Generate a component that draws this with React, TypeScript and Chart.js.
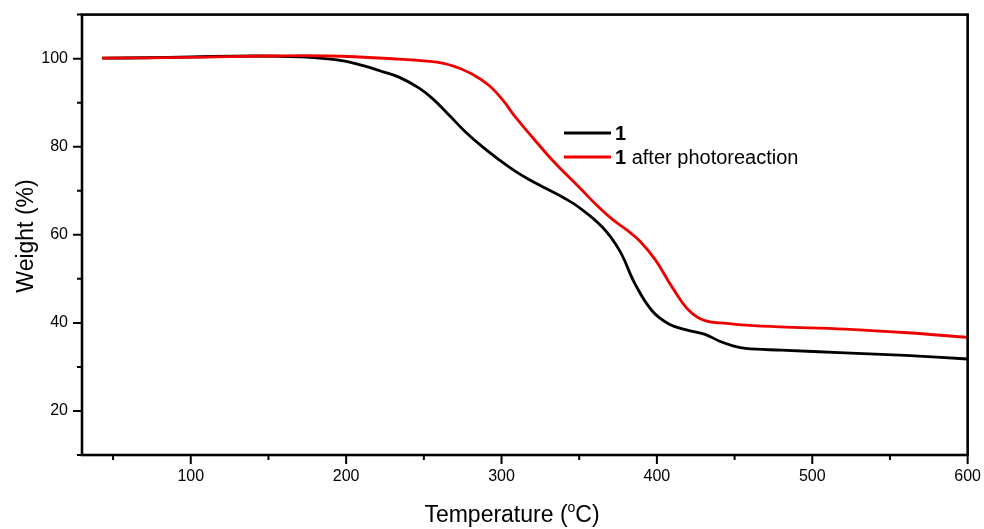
import { useEffect, useRef } from 'react';
import { Chart, registerables } from 'chart.js';

Chart.register(...registerables);

// ---- data ----
const seriesNames = ['1', '1 after photoreaction'];

const tempBlack = [43, 70, 100, 140, 170, 190, 200, 211, 222, 234, 247, 256, 267, 277, 288, 299, 309, 318, 327, 340, 350, 365, 376, 386, 397, 408, 419, 431, 440, 449, 457, 480, 521, 560, 600];
const weightBlack = [100.1, 100.2, 100.4, 100.6, 100.4, 99.9, 99.4, 98.4, 97.2, 95.8, 93.3, 90.8, 86.9, 83.3, 79.9, 76.9, 74.4, 72.5, 70.8, 68.4, 66.2, 61.7, 56.4, 48.8, 42.7, 39.7, 38.4, 37.4, 35.9, 34.8, 34.2, 33.8, 33.2, 32.6, 31.8];

const tempRed = [43, 100, 150, 190, 234, 254, 262, 270, 281, 292, 301, 309, 320, 331, 338, 350, 361, 371, 381, 389, 399, 410, 421, 431, 445, 457, 479, 521, 564, 600];
const weightRed = [100.1, 100.3, 100.6, 100.6, 99.9, 99.4, 99.0, 98.2, 96.5, 93.9, 90.5, 86.7, 82.1, 77.6, 75.0, 70.8, 66.8, 63.6, 61.0, 58.6, 54.3, 48.0, 42.7, 40.5, 39.9, 39.5, 39.1, 38.6, 37.7, 36.7];

const xTickValues = [50, 100, 150, 200, 250, 300, 350, 400, 450, 500, 550, 600];
const yTickValues = [10, 20, 30, 40, 50, 60, 70, 80, 90, 100, 110];
const xLabelStep = 100;
const yLabelStep = 20;

const FONT = '"Liberation Sans", Arial, Helvetica, sans-serif';
const RED = '#ee0000';
const BLACK = '#000000';

const framePlugin = {
  id: 'framePlugin',
  afterDraw(chart: any) {
    const { ctx, chartArea, scales } = chart;
    const { left, right, top, bottom } = chartArea;
    ctx.save();
    ctx.strokeStyle = '#000';
    ctx.lineWidth = 2.6;
    ctx.strokeRect(left, top, right - left, bottom - top);

    // tick marks (outward)
    ctx.lineWidth = 2;
    ctx.beginPath();
    xTickValues.forEach((v) => {
      const px = scales.x.getPixelForValue(v);
      const len = v % xLabelStep === 0 ? 9 : 5;
      ctx.moveTo(px, bottom);
      ctx.lineTo(px, bottom + len);
    });
    yTickValues.forEach((v) => {
      const py = scales.y.getPixelForValue(v);
      const len = v % yLabelStep === 0 ? 9 : 5;
      ctx.moveTo(left, py);
      ctx.lineTo(left - len, py);
    });
    ctx.stroke();

    // axis titles
    ctx.fillStyle = '#000';
    ctx.textBaseline = 'alphabetic';
    const big = `23px ${FONT}`;
    const small = `14px ${FONT}`;
    ctx.font = big;
    const p1 = 'Temperature (';
    const p3 = 'C)';
    const w1 = ctx.measureText(p1).width;
    const w3 = ctx.measureText(p3).width;
    ctx.font = small;
    const w2 = ctx.measureText('o').width;
    const total = w1 + w2 + w3;
    const cx = 512;
    const baseY = 522;
    const x0 = cx - total / 2;
    ctx.font = big;
    ctx.textAlign = 'left';
    ctx.fillText(p1, x0, baseY);
    ctx.font = small;
    ctx.fillText('o', x0 + w1, baseY - 10);
    ctx.font = big;
    ctx.fillText(p3, x0 + w1 + w2, baseY);

    // y title
    ctx.save();
    ctx.translate(33, 236);
    ctx.rotate(-Math.PI / 2);
    ctx.font = big;
    ctx.textAlign = 'center';
    ctx.fillText('Weight (%)', 0, 0);
    ctx.restore();

    // legend
    const items = [
      { color: BLACK, y: 133 },
      { color: RED, y: 157 },
    ];
    items.forEach((it, i) => {
      ctx.strokeStyle = it.color;
      ctx.lineWidth = 2.8;
      ctx.beginPath();
      ctx.moveTo(564, it.y);
      ctx.lineTo(611, it.y);
      ctx.stroke();
      const name = seriesNames[i];
      const sp = name.indexOf(' ');
      const boldPart = sp === -1 ? name : name.slice(0, sp);
      const rest = sp === -1 ? '' : name.slice(sp);
      ctx.fillStyle = '#000';
      ctx.textAlign = 'left';
      ctx.textBaseline = 'middle';
      ctx.font = `bold 20px ${FONT}`;
      ctx.fillText(boldPart, 615, it.y + 1);
      const bw = ctx.measureText(boldPart).width;
      ctx.font = `20px ${FONT}`;
      if (rest) ctx.fillText(rest, 615 + bw, it.y + 1);
    });
    ctx.restore();
  },
};

export default function App() {
  const canvasRef = useRef<HTMLCanvasElement | null>(null);

  useEffect(() => {
    document.body.style.margin = '0';
    const canvas = canvasRef.current;
    if (!canvas) return;
    const chart = new Chart(canvas, {
      type: 'line',
      data: {
        datasets: [
          {
            label: seriesNames[0],
            data: tempBlack.map((t, i) => ({ x: t, y: weightBlack[i] })),
            borderColor: BLACK,
            borderWidth: 2.8,
            pointRadius: 0,
            fill: false,
            tension: 0.4,
            order: 1,
          },
          {
            label: seriesNames[1],
            data: tempRed.map((t, i) => ({ x: t, y: weightRed[i] })),
            borderColor: RED,
            borderWidth: 2.8,
            pointRadius: 0,
            fill: false,
            tension: 0.4,
            order: 0,
          },
        ],
      },
      options: {
        animation: false,
        responsive: true,
        maintainAspectRatio: false,
        devicePixelRatio: 1,
        layout: { padding: { left: 0, top: 14, right: 15, bottom: 0 } },
        plugins: { legend: { display: false }, tooltip: { enabled: false } },
        scales: {
          x: {
            type: 'linear',
            min: 30,
            max: 600,
            afterBuildTicks: (s: any) => {
              s.ticks = xTickValues.map((v) => ({ value: v }));
            },
            afterFit: (s: any) => {
              s.height = 74;
            },
            ticks: {
              autoSkip: false,
              maxRotation: 0,
              padding: 3,
              color: '#000',
              font: { family: FONT, size: 16 },
              callback: (v: any) => (Number(v) % xLabelStep === 0 ? String(v) : ''),
            },
            grid: { display: false, drawTicks: true, tickLength: 9 },
            border: { display: false },
          },
          y: {
            type: 'linear',
            min: 10,
            max: 110,
            afterBuildTicks: (s: any) => {
              s.ticks = yTickValues.map((v) => ({ value: v }));
            },
            afterFit: (s: any) => {
              s.width = 82;
            },
            ticks: {
              autoSkip: false,
              padding: 5,
              color: '#000',
              font: { family: FONT, size: 16 },
              callback: (v: any) => (Number(v) % yLabelStep === 0 ? String(v) : ''),
            },
            grid: { display: false, drawTicks: true, tickLength: 9 },
            border: { display: false },
          },
        },
      },
      plugins: [framePlugin],
    } as any);
    return () => chart.destroy();
  }, []);

  return (
    <div style={{ position: 'fixed', left: 0, top: 0, width: 984, height: 529, background: '#fff' }}>
      <canvas ref={canvasRef} />
    </div>
  );
}
